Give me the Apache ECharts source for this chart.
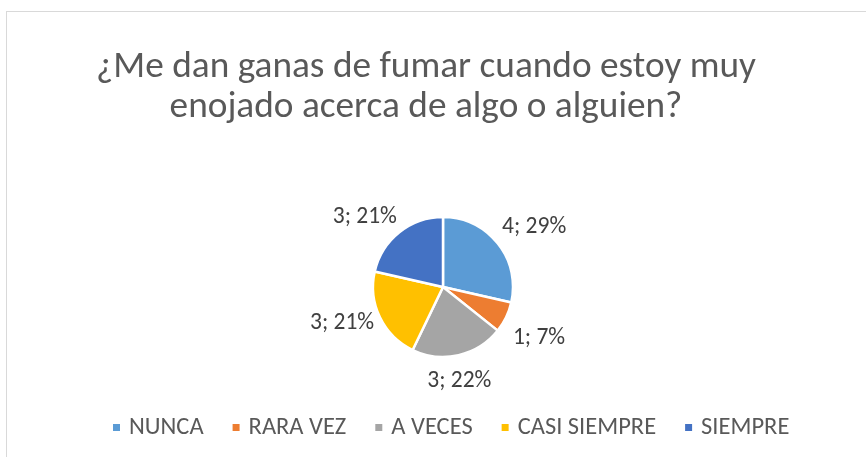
<!DOCTYPE html>
<html>
<head>
<meta charset="utf-8">
<script src="https://cdn.jsdelivr.net/npm/echarts@6/dist/echarts.min.js"></script>
<style>
  html, body { margin: 0; padding: 0; background: #fff; }
  #frame { position: absolute; left: 6px; top: 11px; width: 880px; height: 470px; border: 1px solid #d9d9d9; box-sizing: border-box; }
  #chart { position: absolute; left: 0; top: 0; width: 866px; height: 457px; }
</style>
</head>
<body>
<div id="frame"></div>
<div id="chart"></div>
<script>
var titleText = '¿Me dan ganas de fumar cuando estoy muy\nenojado acerca de algo o alguien?';
var categories = ['NUNCA', 'RARA VEZ', 'A VECES', 'CASI SIEMPRE', 'SIEMPRE'];
var values = [4, 1, 3, 3, 3];
var colors = ['#5b9bd5', '#ed7d31', '#a5a5a5', '#ffc000', '#4472c4'];

var font = 'Carlito, "Liberation Sans Narrow", "Open Sans", sans-serif';

// nudge the data labels to where Excel's "best fit" puts them
var labelNudge = [[-10, -9], [-9, 16], [-39, 14], [10, 1], [10, -6]];

var myChart = echarts.init(document.getElementById('chart'), null, { renderer: 'canvas' });
myChart.setOption({
    animation: false,
    color: colors,
    title: {
        text: titleText,
        left: 421,
        textAlign: 'center',
        top: 43,
        textStyle: {
            color: '#595959',
            fontFamily: font,
            fontSize: 37.3,
            fontWeight: 'normal',
            lineHeight: 40
        }
    },
    legend: {
        data: categories,
        top: 410,
        left: 106,
        itemWidth: 9,
        itemHeight: 9,
        itemGap: 27,
        icon: 'rect',
        textStyle: { color: '#595959', fontFamily: font, fontSize: 24.5, padding: [0, 0, 0, 3] }
    },
    series: [{
        type: 'pie',
        center: [443, 287],
        radius: 70,
        startAngle: 90,
        clockwise: true,
        percentPrecision: 0,
        itemStyle: { borderColor: '#fff', borderWidth: 2.5 },
        label: {
            show: true,
            position: 'outside',
            formatter: '{c}; {d}%',
            color: '#404040',
            fontFamily: font,
            fontSize: 23.5
        },
        labelLine: { show: false, length: 12, length2: 0 },
        labelLayout: function (p) {
            var n = labelNudge[p.dataIndex];
            return { dx: n[0], dy: n[1] };
        },
        data: categories.map(function (c, i) { return { name: c, value: values[i] }; })
    }]
});
</script>
</body>
</html>
